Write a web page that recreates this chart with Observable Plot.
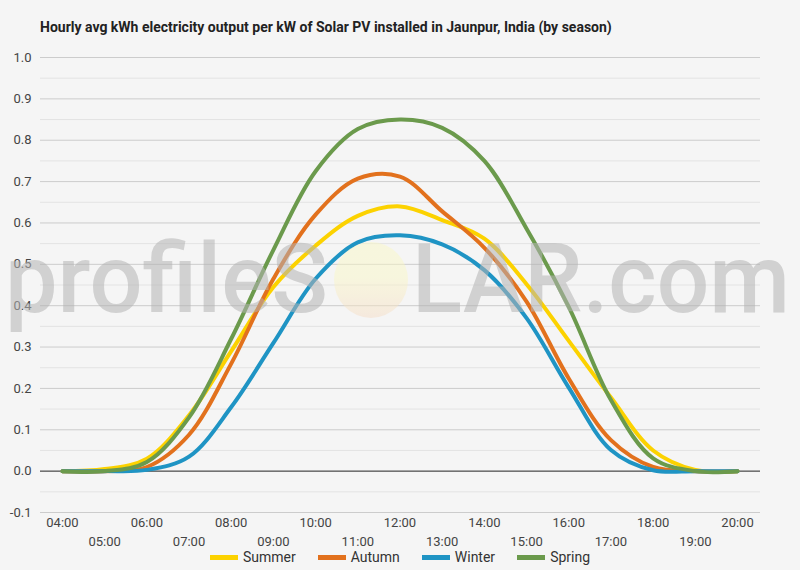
<!DOCTYPE html>
<html>
<head>
<meta charset="utf-8">
<script src="https://cdn.jsdelivr.net/npm/d3@7"></script>
<script src="https://cdn.jsdelivr.net/npm/@observablehq/plot@0.6"></script>
<style>
  html, body { margin: 0; padding: 0; background: #f5f5f5; }
  #wrap { position: relative; width: 800px; height: 570px; background: #f5f5f5; font-family: Roboto, sans-serif; overflow: hidden; }
  #title { position: absolute; left: 40px; top: 19px; font-size: 14px; font-weight: bold; color: #222; white-space: nowrap; }
  #chart { position: absolute; left: 0; top: 0; }
  #wm { position: absolute; left: 0; top: 0; pointer-events: none; }
  #legend { position: absolute; left: 0; top: 549px; width: 800px; display: flex; justify-content: center; font-size: 14px; color: #333; }
  .item { display: flex; align-items: center; margin: 0 11px; }
  .sw { width: 28px; height: 5px; margin-right: 5px; }
</style>
</head>
<body>
<div id="wrap">
  <div id="chart"></div>
  <svg id="wm" width="800" height="570">
    <defs>
      <linearGradient id="sun" x1="0" y1="0" x2="0" y2="1">
        <stop offset="0.45" stop-color="#fbf8c4"/>
        <stop offset="1" stop-color="#f6dcc4"/>
      </linearGradient>
    </defs>
    <g opacity="0.55">
      <text x="5" y="312" font-family="Roboto" font-weight="500" font-size="96" fill="#b4b4b4" textLength="323" lengthAdjust="spacingAndGlyphs">profileS</text>
      <ellipse cx="371" cy="280" rx="37" ry="38" fill="url(#sun)" opacity="0.85"/>
      <text x="412" y="312" font-family="Roboto" font-weight="500" font-size="96" fill="#b4b4b4" textLength="378" lengthAdjust="spacingAndGlyphs">LAR.com</text>
    </g>
  </svg>
  <div id="title">Hourly avg kWh electricity output per kW of Solar PV installed in Jaunpur, India (by season)</div>
  <div id="legend"></div>
</div>
<script>
const hours = [4, 5, 6, 7, 8, 9, 10, 11, 12, 13, 14, 15, 16, 17, 18, 19, 20];
const tickLabels = ["04:00","05:00","06:00","07:00","08:00","09:00","10:00","11:00","12:00","13:00","14:00","15:00","16:00","17:00","18:00","19:00","20:00"];
const seasons = ["Summer", "Autumn", "Winter", "Spring"];
const summer = [0, 0.005, 0.03, 0.135, 0.29, 0.445, 0.545, 0.617, 0.64, 0.607, 0.562, 0.452, 0.315, 0.178, 0.05, 0.003, 0];
const autumn = [0, 0, 0.01, 0.088, 0.26, 0.465, 0.62, 0.707, 0.712, 0.628, 0.54, 0.41, 0.224, 0.075, 0.01, 0, 0];
const winter = [0, 0, 0.003, 0.035, 0.155, 0.31, 0.465, 0.553, 0.57, 0.548, 0.486, 0.37, 0.202, 0.051, 0.002, 0, 0];
const spring = [0, 0, 0.022, 0.13, 0.32, 0.535, 0.725, 0.827, 0.85, 0.83, 0.75, 0.586, 0.397, 0.172, 0.031, 0, 0];
const yTicks = [-0.1, 0, 0.1, 0.2, 0.3, 0.4, 0.5, 0.6, 0.7, 0.8, 0.9, 1.0];

const colors = ["#fcd200", "#e2711d", "#1f94c4", "#6b9a4c"];
const seriesList = [summer, autumn, winter, spring];
const data = seasons.flatMap((s, i) => hours.map((h, j) => ({season: s, hour: h, value: seriesList[i][j]})));
const minorTicks = yTicks.slice(0, -1).map(t => Math.round((t + 0.05) * 100) / 100);

const chart = Plot.plot({
  width: 800,
  height: 548,
  marginTop: 57,
  marginBottom: 36,
  marginLeft: 40,
  marginRight: 40,
  style: {background: "transparent", fontFamily: "Roboto, sans-serif", fontSize: "13px", color: "#444"},
  x: {domain: [3.479, 20.545], axis: null},
  y: {domain: [-0.1, 1.0], axis: null},
  color: {domain: seasons, range: colors},
  marks: [
    Plot.ruleY(minorTicks, {stroke: "#e3e3e3", strokeWidth: 1}),
    Plot.ruleY(yTicks, {stroke: "#cccccc", strokeWidth: 1}),
    Plot.ruleY([0], {stroke: "#333", strokeWidth: 1}),
    Plot.axisY({ticks: yTicks, tickSize: 0, tickPadding: 9, tickFormat: d => d.toFixed(1), label: null, fontSize: 13}),
    Plot.axisX({ticks: hours.filter(h => h % 2 === 0), tickSize: 0, tickPadding: 5, tickFormat: h => tickLabels[hours.indexOf(h)], label: null, fontSize: 13}),
    Plot.axisX({ticks: hours.filter(h => h % 2 === 1), tickSize: 0, tickPadding: 24, tickFormat: h => tickLabels[hours.indexOf(h)], label: null, fontSize: 13}),
    Plot.line(data, {x: "hour", y: "value", z: "season", stroke: "season", curve: "catmull-rom", strokeWidth: 4, strokeLinecap: "round", strokeLinejoin: "round"})
  ]
});
document.getElementById("chart").appendChild(chart);

const legend = document.getElementById("legend");
seasons.forEach((s, i) => {
  const item = document.createElement("div");
  item.className = "item";
  const sw = document.createElement("div");
  sw.className = "sw";
  sw.style.background = colors[i];
  const lab = document.createElement("span");
  lab.textContent = s;
  item.appendChild(sw);
  item.appendChild(lab);
  legend.appendChild(item);
});
</script>
</body>
</html>
